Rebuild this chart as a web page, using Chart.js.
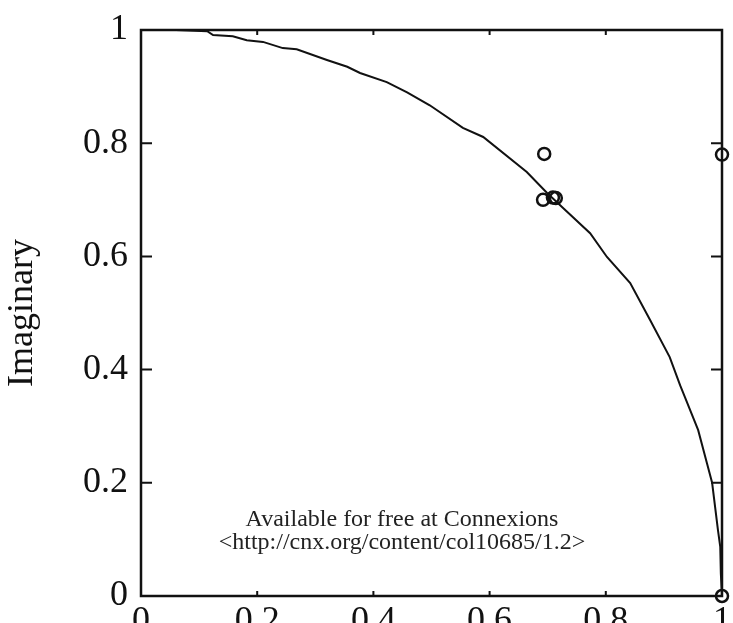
<!DOCTYPE html>
<html>
<head>
<meta charset="utf-8">
<script src="https://cdn.jsdelivr.net/npm/chart.js@4.4.1/dist/chart.umd.min.js"></script>
<style>
html, body { margin: 0; padding: 0; background: #fff; overflow: hidden; }
#wrap { width: 733px; height: 623px; }
</style>
</head>
<body>
<div id="wrap"><canvas id="poleChart" width="733" height="623"></canvas></div>
<script>
// unit circle arc
const curveX = [0.06, 0.114, 0.124, 0.158, 0.182, 0.21, 0.244, 0.268, 0.32, 0.355, 0.377, 0.423, 0.458, 0.497,
  0.554, 0.589, 0.664, 0.699, 0.726, 0.773, 0.802, 0.842, 0.876, 0.91, 0.928, 0.936, 0.959, 0.974, 0.983,
  0.993, 0.997, 0.998, 1.0];
const curveY = [1.0, 0.998, 0.991, 0.989, 0.982, 0.979, 0.968, 0.966, 0.947, 0.935, 0.924, 0.908, 0.89, 0.867,
  0.827, 0.811, 0.749, 0.712, 0.686, 0.641, 0.599, 0.553, 0.488, 0.422, 0.372, 0.352, 0.293, 0.235, 0.2,
  0.117, 0.087, 0.04, 0.0];

// the little circles
const rootX = [0.694, 0.692, 0.709, 0.714, 1.0, 1.0];
const rootY = [0.781, 0.700, 0.704, 0.703, 0.780, 0.0];

const tickValues = [0, 0.2, 0.4, 0.6, 0.8, 1];
const tickLabels = ['0', '0.2', '0.4', '0.6', '0.8', '1'];
const yTitle = 'Imaginary';
const note = ['Available for free at Connexions', '<http://cnx.org/content/col10685/1.2>'];

const ink = '#111';
const serif = '"Liberation Serif", "Times New Roman", serif';

// box round the plot with inward ticks, and the footer note
const framePlugin = {
  id: 'frame',
  beforeDatasetsDraw(chart) {
    const ctx = chart.ctx;
    const a = chart.chartArea;
    const xs = chart.scales.x, ys = chart.scales.y;
    ctx.save();
    ctx.strokeStyle = ink;
    ctx.lineWidth = 2.5;
    ctx.strokeRect(a.left, a.top, a.right - a.left, a.bottom - a.top);
    ctx.lineWidth = 2;
    ctx.beginPath();
    tickValues.slice(1, -1).forEach(v => {
      const px = xs.getPixelForValue(v);
      ctx.moveTo(px, a.bottom); ctx.lineTo(px, a.bottom - 5);
      ctx.moveTo(px, a.top); ctx.lineTo(px, a.top + 5);
      const py = ys.getPixelForValue(v);
      ctx.moveTo(a.left, py); ctx.lineTo(a.left + 11, py);
      ctx.moveTo(a.right, py); ctx.lineTo(a.right - 11, py);
    });
    ctx.stroke();
    ctx.restore();
  },
  afterDraw(chart) {
    const ctx = chart.ctx;
    ctx.save();
    ctx.fillStyle = '#222';
    ctx.font = '24px ' + serif;
    ctx.textAlign = 'center';
    ctx.textBaseline = 'alphabetic';
    ctx.fillText(note[0], 402, 526);
    ctx.fillText(note[1], 402, 549);
    ctx.restore();
  }
};

const tickFont = { family: serif, size: 36 };

new Chart(document.getElementById('poleChart'), {
  type: 'scatter',
  data: {
    datasets: [
      {
        data: curveX.map((x, i) => ({ x: x, y: curveY[i] })),
        showLine: true,
        borderColor: ink,
        borderWidth: 2,
        pointRadius: 0,
        tension: 0,
        clip: false
      },
      {
        data: rootX.map((x, i) => ({ x: x, y: rootY[i] })),
        showLine: false,
        pointRadius: 6,
        pointBorderWidth: 2.5,
        pointBorderColor: ink,
        pointBackgroundColor: 'rgba(0,0,0,0)',
        clip: false
      }
    ]
  },
  options: {
    responsive: false,
    animation: false,
    layout: { autoPadding: false, padding: { top: 30, right: 11, left: 0, bottom: 0 } },
    scales: {
      x: {
        type: 'linear',
        min: 0,
        max: 1,
        afterBuildTicks: s => { s.ticks = tickValues.map(v => ({ value: v })); },
        afterFit: s => { s.height = 27; s.paddingLeft = 0; s.paddingRight = 0; },
        grid: { display: false, drawTicks: false },
        border: { display: false },
        ticks: {
          color: ink,
          font: tickFont,
          padding: 4,
          maxRotation: 0,
          callback: (v, i) => tickLabels[i]
        }
      },
      y: {
        type: 'linear',
        min: 0,
        max: 1,
        afterBuildTicks: s => { s.ticks = tickValues.map(v => ({ value: v })); },
        afterFit: s => { s.width = 141; s.paddingTop = 0; s.paddingBottom = 0; },
        grid: { display: false, drawTicks: false },
        border: { display: false },
        ticks: {
          color: ink,
          font: tickFont,
          padding: 13,
          callback: (v, i) => tickLabels[i]
        },
        title: {
          display: true,
          text: yTitle,
          color: ink,
          font: { family: serif, size: 36 },
          padding: { top: 1, bottom: 0 }
        }
      }
    },
    plugins: {
      legend: { display: false },
      tooltip: { enabled: false }
    }
  },
  plugins: [framePlugin]
});
</script>
</body>
</html>
